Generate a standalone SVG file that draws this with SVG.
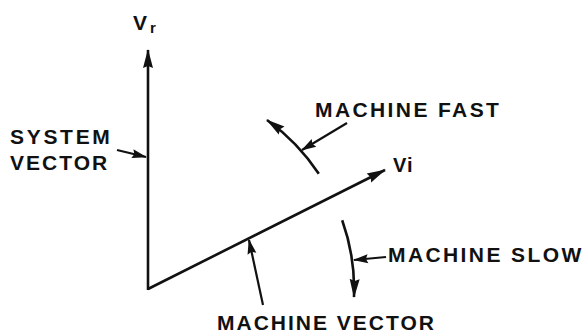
<svg xmlns="http://www.w3.org/2000/svg" width="583" height="333" viewBox="0 0 583 333">
<style>
  .ln{fill:none;stroke:#111;stroke-width:2.6;stroke-linecap:butt}
  .pt{fill:none;stroke:#111;stroke-width:2.2}
  .tx{font-family:"Liberation Sans",Arial,sans-serif;font-weight:bold;font-size:21px;fill:#111}
</style>
<defs>
  <marker id="ah" markerUnits="userSpaceOnUse" markerWidth="22" markerHeight="12" viewBox="-20 -6 22 12" refX="0" refY="0" orient="auto">
    <path d="M1,0 L-18,-5 L-16,0 L-18,5 Z" fill="#111"/>
  </marker>
  <marker id="ahs" markerUnits="userSpaceOnUse" markerWidth="18" markerHeight="10" viewBox="-16 -5 18 10" refX="0" refY="0" orient="auto">
    <path d="M1,0 L-14,-4.5 L-12,0 L-14,4.5 Z" fill="#111"/>
  </marker>
</defs>
<g id="connectors">
  <path id="system-axis" class="ln" d="M148,290 L148,50" marker-end="url(#ah)"/>
  <path id="machine-axis" class="ln" d="M148,289 L385,170" marker-end="url(#ah)"/>
  <path id="fast-arc" class="ln" d="M318.8,173.8 A206,206 0 0 0 267,120" marker-end="url(#ah)"/>
  <path id="slow-arc" class="ln" d="M342.2,220.2 A206,206 0 0 1 354,297" marker-end="url(#ah)"/>
  <path id="system-pointer" class="pt" d="M117,150 L146,157" marker-end="url(#ahs)"/>
  <path id="fast-pointer" class="pt" d="M347,123 L302,150" marker-end="url(#ahs)"/>
  <path id="slow-pointer" class="pt" d="M386,257 L354,260" marker-end="url(#ahs)"/>
  <path id="vector-pointer" class="pt" d="M263,305 L249,240" marker-end="url(#ahs)"/>
</g>
<g id="label-vr"><text class="tx" x="133" y="30" font-size="20">V</text><text class="tx" x="150" y="33" style="font-size:15px">r</text></g>
<g id="label-vi"><text class="tx" x="393" y="172" style="font-size:20px">V<tspan dx="1">i</tspan></text></g>
<g id="label-system"><text class="tx" x="10" y="144" letter-spacing="2.7">SYSTEM</text><text class="tx" x="10" y="170" letter-spacing="2">VECTOR</text></g>
<g id="label-fast"><text class="tx" x="315" y="117" letter-spacing="2.4">MACHINE FAST</text></g>
<g id="label-slow"><text class="tx" x="388" y="262" letter-spacing="2.4">MACHINE SLOW</text></g>
<g id="label-vector"><text class="tx" x="217" y="330" letter-spacing="2">MACHINE VECTOR</text></g>
</svg>
